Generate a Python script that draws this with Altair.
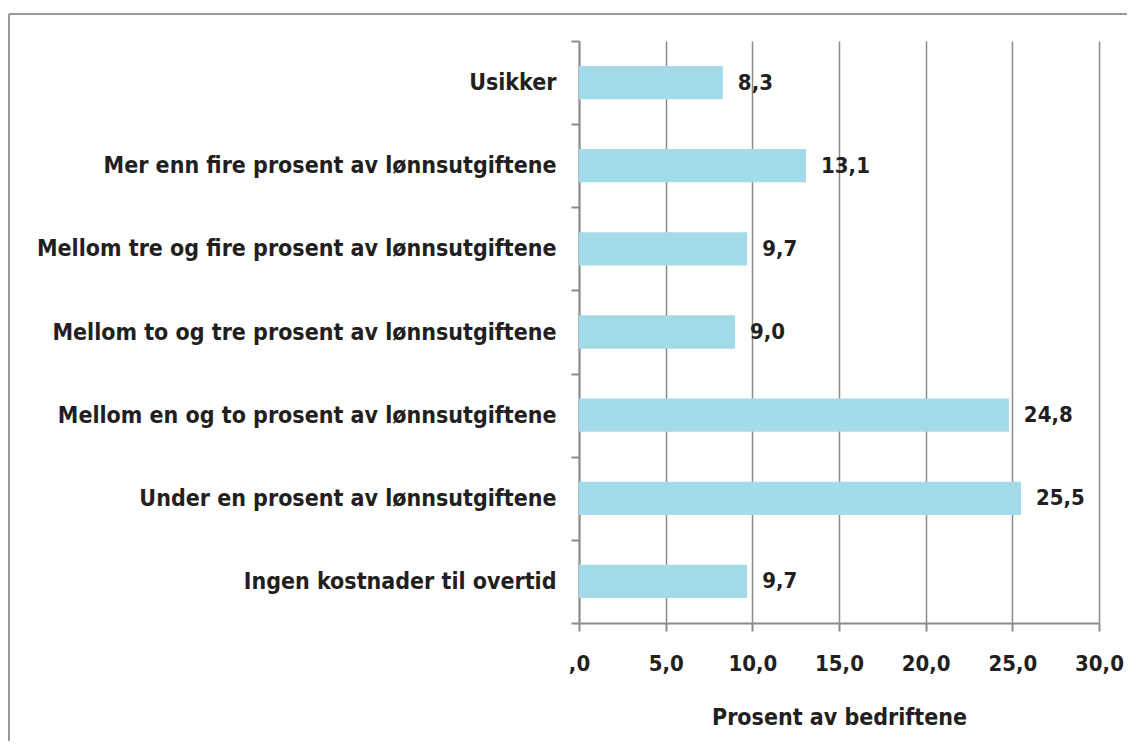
import altair as alt
import pandas as pd

categories = [
    "Usikker",
    "Mer enn fire prosent av lønnsutgiftene",
    "Mellom tre og fire prosent av lønnsutgiftene",
    "Mellom to og tre prosent av lønnsutgiftene",
    "Mellom en og to prosent av lønnsutgiftene",
    "Under en prosent av lønnsutgiftene",
    "Ingen kostnader til overtid",
]
values = [8.3, 13.1, 9.7, 9.0, 24.8, 25.5, 9.7]
x_ticks = [0, 5, 10, 15, 20, 25, 30]
x_title = "Prosent av bedriftene"

df = pd.DataFrame({"kategori": categories, "verdi": values})
df["etikett"] = [f"{v:.1f}".replace(".", ",") for v in values]

FONT = "DejaVu Sans Condensed"
TXT = "#231f20"
GRID = "#8c8c8c"

xenc = alt.X(
    "verdi:Q",
    scale=alt.Scale(domain=[0, 30], nice=False),
    axis=alt.Axis(
        values=x_ticks,
        labelExpr="datum.value == 0 ? ',0' : replace(format(datum.value, '.1f'), '.', ',')",
        labelFlush=False,
        labelOverlap=False,
        grid=True,
        gridColor=GRID,
        gridWidth=1.5,
        domainColor=GRID,
        domainWidth=2,
        tickColor=GRID,
        tickWidth=2,
        tickSize=8,
        labelPadding=22,
        labelFont=FONT,
        labelFontSize=22,
        labelFontWeight="bold",
        labelColor=TXT,
        title=x_title,
        titleFont=FONT,
        titleFontSize=23,
        titleFontWeight="bold",
        titleColor=TXT,
        titlePadding=32,
    ),
)
yenc = alt.Y(
    "kategori:N",
    sort=categories,
    scale=alt.Scale(paddingInner=0, paddingOuter=0),
    axis=alt.Axis(
        title=None,
        tickBand="extent",
        domainColor=GRID,
        domainWidth=2,
        tickColor=GRID,
        tickWidth=2,
        tickSize=8,
        labelPadding=15,
        labelFont=FONT,
        labelFontSize=23,
        labelFontWeight="bold",
        labelColor=TXT,
        labelLimit=700,
    ),
)

bars = alt.Chart(df).mark_bar(color="#a3dce8", height={"band": 0.4}).encode(x=xenc, y=yenc)
labels = alt.Chart(df).mark_text(
    align="left", dx=15, font=FONT, fontSize=22, fontWeight="bold", color=TXT
).encode(x="verdi:Q", y=alt.Y("kategori:N", sort=categories), text="etikett:N")

frame = alt.Data(values=[{}])
top_line = alt.Chart(frame).mark_rule(color="#9a9a9a", strokeWidth=2).encode(
    x=alt.value(-570), x2=alt.value(548), y=alt.value(-27)
)
left_line = alt.Chart(frame).mark_rule(color="#9a9a9a", strokeWidth=2).encode(
    x=alt.value(-570), y=alt.value(-27), y2=alt.value(700)
)

chart = (
    alt.layer(bars, labels, top_line, left_line)
    .properties(width=520, height=582, padding={"left": 0, "top": 5, "right": 0, "bottom": 0})
    .configure_view(stroke=None)
)

chart.save("out.html", embed_options={"renderer": "svg", "actions": False})
